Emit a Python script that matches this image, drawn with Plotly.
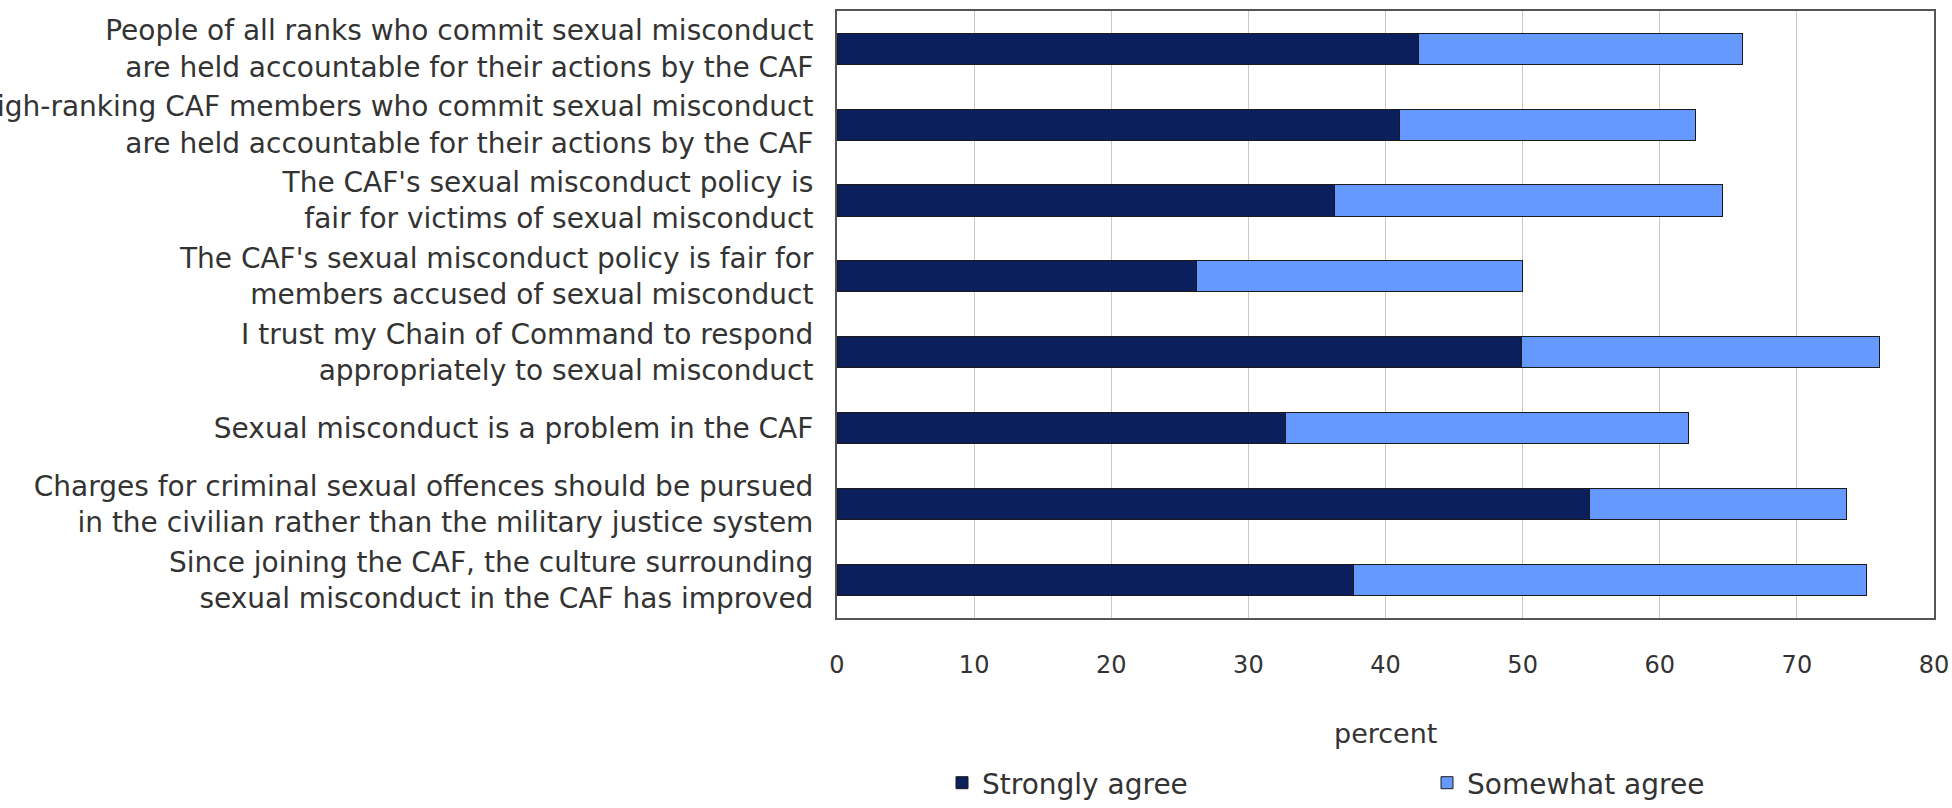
import plotly.graph_objects as go

categories = [
    "People of all ranks who commit sexual misconduct<br>are held accountable for their actions by the CAF",
    "High-ranking CAF members who commit sexual misconduct<br>are held accountable for their actions by the CAF",
    "The CAF's sexual misconduct policy is<br>fair for victims of sexual misconduct",
    "The CAF's sexual misconduct policy is fair for<br>members accused of sexual misconduct",
    "I trust my Chain of Command to respond<br>appropriately to sexual misconduct",
    "Sexual misconduct is a problem in the CAF",
    "Charges for criminal sexual offences should be pursued<br>in the civilian rather than the military justice system",
    "Since joining the CAF, the culture surrounding<br>sexual misconduct in the CAF has improved",
]
strongly_agree = [42.4, 41.0, 36.3, 26.2, 49.9, 32.7, 54.9, 37.7]
somewhat_agree = [23.6, 21.6, 28.3, 23.8, 26.1, 29.4, 18.7, 37.4]
x_ticks = [0, 10, 20, 30, 40, 50, 60, 70, 80]

FONT = "DejaVu Sans"
TEXT = "#333333"

fig = go.Figure()
fig.add_trace(go.Bar(
    y=categories, x=strongly_agree, orientation="h", name="Strongly agree",
    marker=dict(color="#0a1f5c", line=dict(color="#1a1a1a", width=1)),
))
fig.add_trace(go.Bar(
    y=categories, x=somewhat_agree, orientation="h", name="Somewhat agree",
    marker=dict(color="#6699ff", line=dict(color="#1a1a1a", width=1)),
))

W, H = 1952, 808
fig.update_layout(
    width=W, height=H,
    barmode="stack", bargap=0.59,
    margin=dict(l=0, r=0, t=0, b=0),
    paper_bgcolor="white", plot_bgcolor="white",
    font=dict(family=FONT, size=22, color=TEXT),
    xaxis=dict(
        domain=[837 / W, 1934 / W], range=[0, 80], tickvals=x_ticks,
        showgrid=True, gridcolor="#c8c8c8", gridwidth=1,
        showline=True, linecolor="#555555", linewidth=2, mirror=True,
        ticks="", ticklabelstandoff=24, zeroline=False,
        tickfont=dict(size=24, color=TEXT), automargin=False,
    ),
    yaxis=dict(
        domain=[(H - 632) / H, (H - 11) / H], autorange="reversed",
        showline=True, linecolor="#555555", linewidth=2, mirror=True,
        ticks="", ticklabelstandoff=16, showgrid=False,
        tickfont=dict(size=28, color=TEXT), automargin=False,
    ),
    legend=dict(
        orientation="h", x=942 / W, xanchor="left", y=(H - 801) / H, yanchor="middle",
        font=dict(size=28, color=TEXT), itemwidth=30, entrywidth=440,
        entrywidthmode="pixels", traceorder="normal", bgcolor="rgba(0,0,0,0)",
    ),
    annotations=[dict(
        text="percent", x=1385 / W, y=(H - 750) / H, xref="paper", yref="paper",
        showarrow=False, font=dict(size=27, color=TEXT), xanchor="center", yanchor="middle",
    )],
)

fig.write_html("out.html")
